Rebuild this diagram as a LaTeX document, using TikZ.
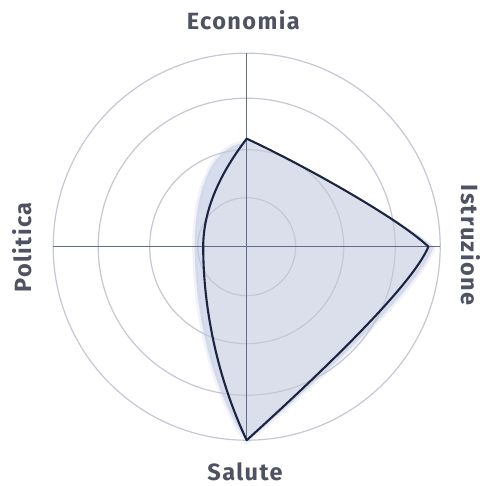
\documentclass[tikz,border=0pt]{standalone}
\usepackage{fontspec}
\newfontfamily\axisfont{Fira Sans}[LetterSpace=6.0]
\definecolor{areafill}{RGB}{219,222,235}
\definecolor{halofill}{RGB}{206,212,232}
\definecolor{ringcol}{RGB}{196,199,212}
\definecolor{axiscol}{RGB}{98,108,138}
\definecolor{linecol}{RGB}{28,36,66}
\definecolor{labelcol}{RGB}{78,82,98}
\begin{document}
\begin{tikzpicture}[x=1pt,y=1pt,
	ring/.style={draw=ringcol, line width=1.2pt},
	axis/.style={draw=axiscol, line width=1.4pt},
	outline/.style={draw=linecol, line width=2.1pt, line join=round},
	label/.style={text=labelcol, font=\axisfont\bfseries\fontsize{23.5}{26}\selectfont, inner sep=0pt, anchor=base}]
		\useasboundingbox (-246.7,-239.3) rectangle (232.3,246.7);

		% soft shadow under the area
		\fill[halofill, opacity=0.8]
		(0,104) .. controls (-38,102) and (-52,50) .. (-52,0)
		.. controls (-52,-60) and (-37,-140) .. (0,-195)
		.. controls (72,-134) and (172,-42) .. (187,0)
		.. controls (150,30) and (50,85) .. cycle;
		\draw[halofill, line width=5pt, opacity=0.3]
		(0,104) .. controls (-38,102) and (-52,50) .. (-52,0)
		.. controls (-52,-60) and (-37,-140) .. (0,-195)
		.. controls (72,-134) and (172,-42) .. (187,0);

		% area
		\fill[areafill]
		(0,108) .. controls (-12,92) and (-43.5,50) .. (-43.5,0)
		.. controls (-43.5,-60) and (-30,-130) .. (0,-193.5)
		.. controls (70,-130) and (165,-40) .. (181.7,0)
		.. controls (150,30) and (50,85) .. cycle;

		% rings and axes
		\foreach \r in {49,97,148.5,193.5}
			\draw[ring] (0,0) circle (\r);
		\draw[axis] (-193.5,0) -- (193.5,0);
		\draw[axis] (0,-193.5) -- (0,193.5);

		% outline
		\draw[outline]
		(0,108) .. controls (-12,92) and (-43.5,50) .. (-43.5,0)
		.. controls (-43.5,-60) and (-30,-130) .. (0,-193.5)
		.. controls (70,-130) and (165,-40) .. (181.7,0)
		.. controls (150,30) and (50,85) .. cycle;

		\node[label] (eco) at (-3.4,216.7) {Economia};
		\node[label] (sal) at (-1.7,-233.3) {Salute};
		\node[label, rotate=90] (pol) at (-215,-0.8) {Politica};
		\node[label, rotate=-90] (ist) at (215,1.7) {Istruzione};
		\end{tikzpicture}
\end{document}
